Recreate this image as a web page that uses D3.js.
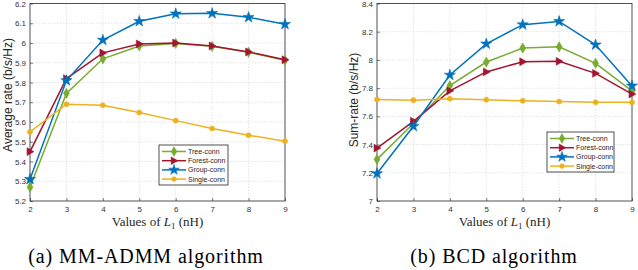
<!DOCTYPE html>
<html>
<head>
<meta charset="utf-8">
<script src="https://cdn.jsdelivr.net/npm/d3@7"></script>
<style>
body { margin: 0; background: #fff; }
svg { display: block; }
.tick text { font-family: "Liberation Sans", Arial, sans-serif; font-size: 8px; fill: #333; }
.ylab { font-family: "Liberation Sans", Arial, sans-serif; font-size: 12px; fill: #262626; }
.xlab { font-family: "Liberation Serif", "Times New Roman", serif; font-size: 13px; fill: #262626; }
.cap { font-family: "Liberation Serif", "Times New Roman", serif; font-size: 20px; fill: #000; letter-spacing: 0.9px; }
.leg { font-family: "Liberation Sans", Arial, sans-serif; font-size: 7px; fill: #262626; }
</style>
</head>
<body>
<svg id="chart" width="638" height="270"></svg>
<script>
const lValues = [2, 3, 4, 5, 6, 7, 8, 9];
const seriesNames = ['Tree-conn', 'Forest-conn', 'Group-conn', 'Single-conn'];
const seriesColors = ['#77AC30', '#A2142F', '#0072BD', '#EDB120'];
const seriesMarkers = ['diamond', 'triangle', 'star', 'circle'];

// (a) MM-ADMM
const admmTree = [5.27, 5.745, 5.92, 5.985, 5.998, 5.983, 5.953, 5.913];
const admmForest = [5.45, 5.82, 5.95, 5.995, 6.0, 5.985, 5.955, 5.915];
const admmGroup = [5.31, 5.81, 6.015, 6.11, 6.148, 6.15, 6.13, 6.095];
const admmSingle = [5.55, 5.69, 5.685, 5.648, 5.607, 5.567, 5.533, 5.503];
const admmTicks = [5.2, 5.3, 5.4, 5.5, 5.6, 5.7, 5.8, 5.9, 6, 6.1, 6.2];

// (b) BCD
const bcdTree = [7.295, 7.55, 7.818, 7.985, 8.084, 8.093, 7.976, 7.78];
const bcdForest = [7.375, 7.565, 7.781, 7.915, 7.987, 7.99, 7.905, 7.758];
const bcdGroup = [7.195, 7.53, 7.893, 8.114, 8.25, 8.273, 8.107, 7.816];
const bcdSingle = [7.72, 7.715, 7.725, 7.718, 7.71, 7.705, 7.70, 7.70];
const bcdTicks = [7, 7.2, 7.4, 7.6, 7.8, 8, 8.2, 8.4];

const svg = d3.select('#chart');

function markerPath(kind, size) {
    if (kind === 'diamond') return d3.symbol(d3.symbolDiamond, size * 0.75)();
    if (kind === 'star') return d3.symbol(d3.symbolStar, size * 0.95)();
    if (kind === 'circle') return d3.symbol(d3.symbolCircle, size * 0.5)();
    // right pointing triangle
    const r = Math.sqrt(size) * 0.62;
    return `M${r},0L${-r * 0.75},${-r}L${-r * 0.75},${r}Z`;
}

function drawPanel(opts) {
    const x = d3.scaleLinear().domain([2, 9]).range([opts.left, opts.right]);
    const y = d3.scaleLinear().domain(opts.domain).range([opts.bottom, opts.top]);
    const g = svg.append('g');

    // grid
    g.append('g').selectAll('line').data(lValues.slice(1, -1)).join('line')
        .attr('x1', d => x(d)).attr('x2', d => x(d))
        .attr('y1', opts.top).attr('y2', opts.bottom)
        .attr('stroke', '#d8d8d8').attr('stroke-width', 0.7).attr('stroke-dasharray', '1.5,1.5');
    g.append('g').selectAll('line').data(opts.ticks.slice(1, -1)).join('line')
        .attr('x1', opts.left).attr('x2', opts.right)
        .attr('y1', d => y(d)).attr('y2', d => y(d))
        .attr('stroke', '#d8d8d8').attr('stroke-width', 0.7).attr('stroke-dasharray', '1.5,1.5');

    // axes
    const xAxis = g.append('g').attr('transform', `translate(0,${opts.bottom})`)
        .call(d3.axisBottom(x).tickValues(lValues).tickFormat(d3.format('d')).tickSize(-3).tickPadding(5));
    const yAxis = g.append('g').attr('transform', `translate(${opts.left},0)`)
        .call(d3.axisLeft(y).tickValues(opts.ticks).tickFormat(d => String(+d.toFixed(1))).tickSize(-3).tickPadding(4));
    [xAxis, yAxis].forEach(a => {
        a.select('.domain').remove();
        a.selectAll('.tick line').attr('stroke', '#262626').attr('stroke-width', 0.6);
    });
    g.append('rect')
        .attr('x', opts.left).attr('y', opts.top)
        .attr('width', opts.right - opts.left).attr('height', opts.bottom - opts.top)
        .attr('fill', 'none').attr('stroke', '#262626').attr('stroke-width', 0.8);

    // series
    const line = d3.line().x((d, i) => x(lValues[i])).y(d => y(d));
    opts.series.forEach((vals, si) => {
        g.append('path').datum(vals)
            .attr('d', line)
            .attr('fill', 'none').attr('stroke', seriesColors[si]).attr('stroke-width', 1.5);
        g.append('g').selectAll('path').data(vals).join('path')
            .attr('transform', (d, i) => `translate(${x(lValues[i])},${y(d)})`)
            .attr('d', markerPath(seriesMarkers[si], 40))
            .attr('fill', seriesColors[si]).attr('stroke', seriesColors[si]).attr('stroke-width', 0.6);
    });

    // legend
    const lg = g.append('g').attr('transform', `translate(${opts.legend[0]},${opts.legend[1]})`);
    lg.append('rect').attr('width', opts.legend[2]).attr('height', 40)
        .attr('fill', '#fff').attr('stroke', '#262626').attr('stroke-width', 0.8);
    seriesNames.forEach((name, si) => {
        const yy = 6.5 + si * 9.2;
        lg.append('line').attr('x1', 3).attr('x2', 27).attr('y1', yy).attr('y2', yy)
            .attr('stroke', seriesColors[si]).attr('stroke-width', 1.5);
        lg.append('path').attr('transform', `translate(15,${yy})`)
            .attr('d', markerPath(seriesMarkers[si], 36))
            .attr('fill', seriesColors[si]).attr('stroke', seriesColors[si]).attr('stroke-width', 0.6);
        lg.append('text').attr('class', 'leg').attr('x', 29).attr('y', yy).attr('dy', '0.35em').text(name);
    });

    // labels
    const cx = (opts.left + opts.right) / 2;
    const xl = g.append('text').attr('class', 'xlab').attr('x', cx).attr('y', 226).attr('text-anchor', 'middle');
    xl.append('tspan').text('Values of ');
    xl.append('tspan').attr('font-style', 'italic').text('L');
    xl.append('tspan').attr('font-size', '9px').attr('dy', 2.5).text('1');
    xl.append('tspan').attr('dy', -2.5).text(' (nH)');

    g.append('text').attr('class', 'ylab')
        .attr('transform', `translate(${opts.ylabX},${opts.ylabY}) rotate(-90)`)
        .attr('text-anchor', 'middle').text(opts.ylabel);

    g.append('text').attr('class', 'cap').attr('x', opts.capX).attr('y', 263)
        .attr('text-anchor', 'middle').text(opts.caption);
}

drawPanel({
    left: 30, right: 285, top: 3.5, bottom: 201,
    domain: [5.2, 6.2], ticks: admmTicks,
    series: [admmTree, admmForest, admmGroup, admmSingle],
    legend: [159, 145, 69],
    ylabel: 'Average rate (b/s/Hz)', ylabX: 12, ylabY: 95,
    caption: '(a)  MM-ADMM algorithm', capX: 146
});

drawPanel({
    left: 377, right: 632, top: 3.5, bottom: 201,
    domain: [7, 8.4], ticks: bcdTicks,
    series: [bcdTree, bcdForest, bcdGroup, bcdSingle],
    legend: [547, 132, 67],
    ylabel: 'Sum-rate (b/s/Hz)', ylabX: 358, ylabY: 100,
    caption: '(b)  BCD algorithm', capX: 494
});
</script>
</body>
</html>
